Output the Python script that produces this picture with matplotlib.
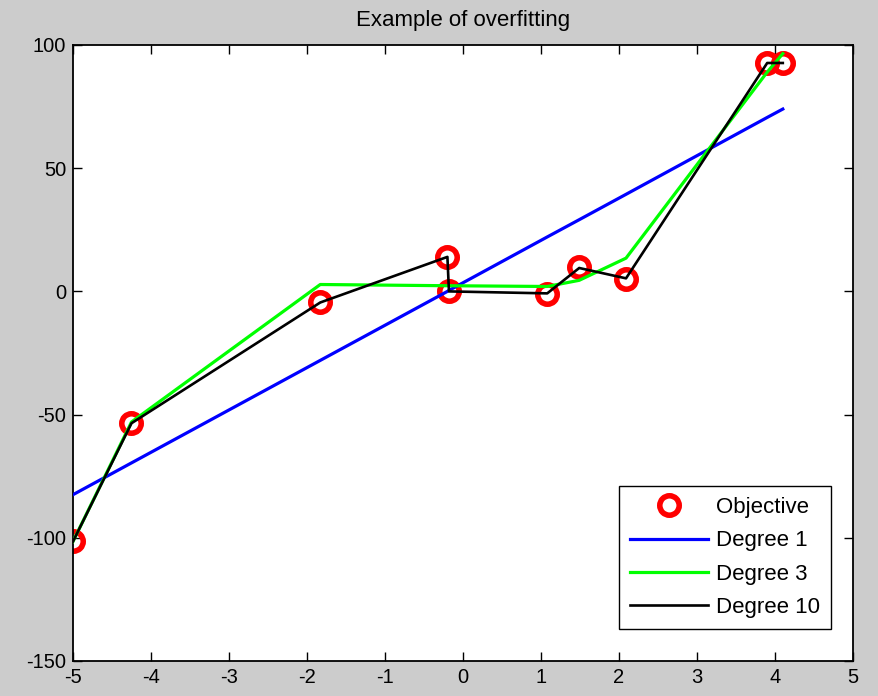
import matplotlib
matplotlib.use("Agg")
import matplotlib.pyplot as plt

plt.rcParams['font.family'] = ['Liberation Sans', 'DejaVu Sans']
plt.rcParams['axes.unicode_minus'] = False

# Data
x_obj = [-5.0, -4.25, -1.83, -0.20, -0.18, 1.08, 1.49, 2.09, 3.90, 4.10]
y_obj = [-101.5, -53.5, -4.5, 14.0, 0.0, -1.2, 10.0, 5.0, 92.5, 92.5]
deg1 = [-82.5, -69.6, -28.0, 0.0, 0.4, 22.1, 29.1, 39.4, 70.6, 74.0]
deg3 = [-101.5, -53.0, 2.8, 2.3, 2.3, 2.0, 4.5, 13.5, 89.0, 96.5]
deg10 = [-101.5, -53.5, -4.5, 14.0, 0.0, -0.8, 9.5, 5.3, 92.7, 92.7]
x_ticks = [-5, -4, -3, -2, -1, 0, 1, 2, 3, 4, 5]
y_ticks = [-150, -100, -50, 0, 50, 100]
title = "Example of overfitting"

fig = plt.figure(figsize=(8.79, 6.96), dpi=100, facecolor='#cccccc')
ax = fig.add_axes([73/879, 1 - 661/696, 780/879, 616/696])
ax.set_facecolor('white')

ax.plot(x_obj, y_obj, linestyle='none', marker='o', markersize=14,
        markerfacecolor='none', markeredgecolor='#ff0000', markeredgewidth=4.0,
        label='Objective', zorder=2)
ax.plot(x_obj, deg1, color='#0000ff', lw=2.3, label='Degree 1', zorder=3)
ax.plot(x_obj, deg3, color='#00ff00', lw=2.3, label='Degree 3', zorder=3)
ax.plot(x_obj, deg10, color='black', lw=1.9, label='Degree 10', zorder=4)

ax.set_xlim(-5, 5)
ax.set_ylim(-150, 100)
ax.set_xticks(x_ticks)
ax.set_yticks(y_ticks)
ax.tick_params(direction='in', length=6.5, width=1, top=True, right=True,
               labelsize=14.5, colors='black', pad=5)
for s in ax.spines.values():
    s.set_linewidth(1.3)
ax.set_title(title, fontsize=16, pad=14)

leg = ax.legend(loc='lower right', fontsize=16, frameon=True, fancybox=False,
                edgecolor='black', framealpha=1, handlelength=3.5,
                borderpad=0.5, labelspacing=0.55, handletextpad=0.35,
                borderaxespad=0, bbox_to_anchor=(0.972, 0.052))
leg.get_frame().set_linewidth(1.0)

fig.savefig('out.png', dpi=100, facecolor=fig.get_facecolor())
